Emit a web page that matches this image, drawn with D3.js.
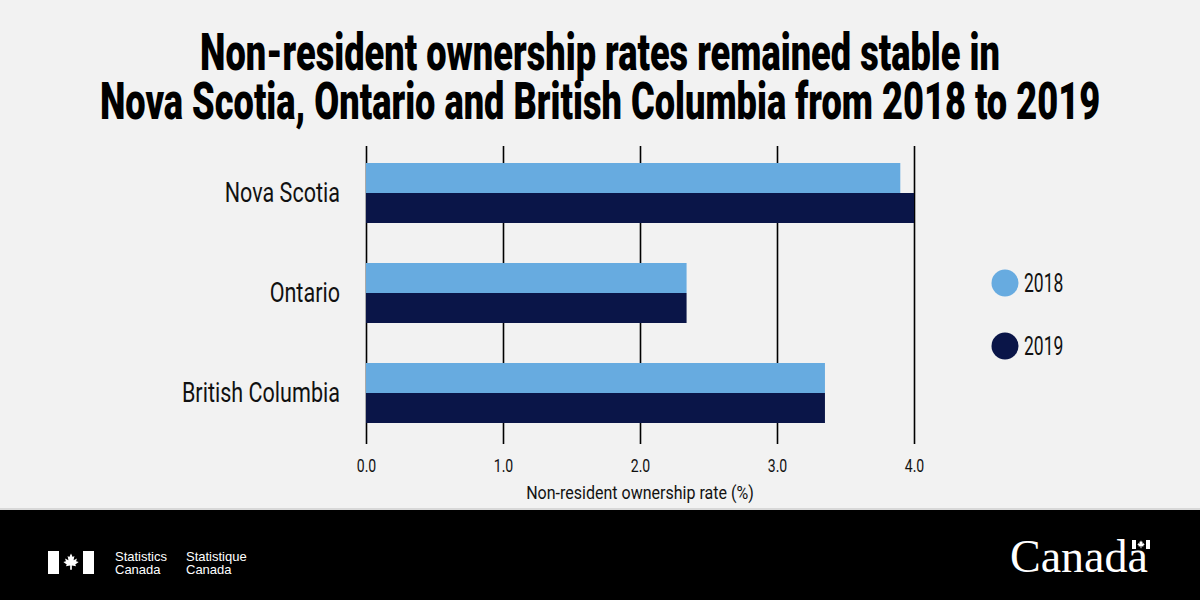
<!DOCTYPE html>
<html>
<head>
<meta charset="utf-8">
<script src="https://cdn.jsdelivr.net/npm/d3@7"></script>
<style>
  body { margin: 0; background: #f2f2f2; }
  svg { display: block; }
</style>
</head>
<body>
<div id="chart"></div>
<script>
var svgWidth = 1200;
var svgHeight = 600;

// data
var provinces = ["Nova Scotia", "Ontario", "British Columbia"];
var years = ["2018", "2019"];
var rate2018 = [3.9, 2.34, 3.35];
var rate2019 = [4.0, 2.34, 3.35];
var xTicks = [0, 1, 2, 3, 4];
var titleLines = ["Non-resident ownership rates remained stable in",
                  "Nova Scotia, Ontario and British Columbia from 2018 to 2019"];

var colors = { "2018": "#67abe0", "2019": "#0a1548" };
var fontCond = "Roboto, 'Liberation Sans', sans-serif";

var svg = d3.select("#chart")
  .append("svg")
  .attr("width", svgWidth)
  .attr("height", svgHeight);

svg.append("rect")
  .attr("width", svgWidth)
  .attr("height", svgHeight)
  .attr("fill", "#f2f2f2");

// squeeze text horizontally to fake a condensed face
function condense(sel, ratio) {
  sel.each(function() {
    var w = this.getComputedTextLength();
    d3.select(this)
      .attr("textLength", w * ratio)
      .attr("lengthAdjust", "spacingAndGlyphs");
  });
}

// Title: one text, two lines, squeezed by a scale
svg.append("g")
  .attr("transform", "translate(600, 70) scale(0.71, 1)")
  .append("text")
  .attr("text-anchor", "middle")
  .style("font-family", fontCond)
  .style("font-weight", "900")
  .style("font-size", "51px")
  .style("fill", "#000")
  .selectAll("tspan")
  .data(titleLines)
  .enter()
  .append("tspan")
  .attr("x", 0)
  .attr("y", (d, i) => i * 49)
  .text(d => d);

// Scales
var xScale = d3.scaleLinear()
  .domain([0, 4])
  .range([366, 914]);

var yScale = d3.scaleBand()
  .domain(provinces)
  .range([143, 443])
  .paddingInner(0.4)
  .paddingOuter(0.2);

var ySub = d3.scaleBand()
  .domain(years)
  .range([0, yScale.bandwidth()]);

// Axis + gridlines
var bottomAxis = d3.axisBottom(xScale)
  .tickValues(xTicks)
  .tickFormat(d3.format(".1f"))
  .tickSize(-(444 - 146))
  .tickPadding(15);

var axisG = svg.append("g")
  .attr("transform", "translate(0, 444)")
  .call(bottomAxis);

axisG.select(".domain").remove();
axisG.selectAll("line")
  .attr("stroke", "#000")
  .attr("stroke-width", 1.6);
axisG.selectAll("text")
  .style("font-family", fontCond)
  .style("font-size", "18px")
  .style("fill", "#111")
  .call(condense, 0.78);

// Bars
var rows = provinces.map((p, i) => ({ province: p, values: [
  { year: "2018", value: rate2018[i] },
  { year: "2019", value: rate2019[i] }
]}));

var groups = svg.selectAll(".prov")
  .data(rows)
  .enter()
  .append("g")
  .attr("class", "prov")
  .attr("transform", d => `translate(0, ${yScale(d.province)})`);

groups.selectAll("rect")
  .data(d => d.values)
  .enter()
  .append("rect")
  .attr("x", xScale(0))
  .attr("y", d => ySub(d.year))
  .attr("width", d => xScale(d.value) - xScale(0))
  .attr("height", ySub.bandwidth())
  .attr("fill", d => colors[d.year]);

// Category labels
svg.selectAll(".catLabel")
  .data(provinces)
  .enter()
  .append("text")
  .attr("class", "catLabel")
  .attr("x", 340)
  .attr("y", d => yScale(d) + yScale.bandwidth() / 2 + 9)
  .attr("text-anchor", "end")
  .style("font-family", fontCond)
  .style("font-size", "28px")
  .style("fill", "#111")
  .text(d => d)
  .call(condense, 0.77);

// x axis title
svg.append("text")
  .attr("x", (xScale(0) + xScale(4)) / 2)
  .attr("y", 499)
  .attr("text-anchor", "middle")
  .style("font-family", fontCond)
  .style("font-size", "18px")
  .style("fill", "#111")
  .text("Non-resident ownership rate (%)")
  .call(condense, 0.89);

// Legend
var legend = svg.selectAll(".legend")
  .data(years)
  .enter()
  .append("g")
  .attr("class", "legend")
  .attr("transform", (d, i) => `translate(1005, ${283 + i * 63})`);

legend.append("circle")
  .attr("r", 13.5)
  .attr("fill", d => colors[d]);

legend.append("text")
  .attr("x", 19)
  .attr("y", 9)
  .style("font-family", fontCond)
  .style("font-size", "25px")
  .style("fill", "#111")
  .text(d => d)
  .call(condense, 0.7);

// Footer
svg.append("rect")
  .attr("x", 0)
  .attr("y", 508)
  .attr("width", svgWidth)
  .attr("height", 2)
  .attr("fill", "#d8d8d8");

svg.append("rect")
  .attr("x", 0)
  .attr("y", 510)
  .attr("width", svgWidth)
  .attr("height", 90)
  .attr("fill", "#000");

var leaf = "M0,-10 L2,-6 L4,-7 L3,-2 L7,-4 L6,-1 L9,0 L5,3 L6,5 L1,4 L1,9 L-1,9 L-1,4 L-6,5 L-5,3 L-9,0 L-6,-1 L-7,-4 L-3,-2 L-4,-7 L-2,-6 Z";

var fip = svg.append("g").attr("fill", "#fff");
fip.append("rect").attr("x", 48).attr("y", 551).attr("width", 11).attr("height", 23);
fip.append("rect").attr("x", 83).attr("y", 551).attr("width", 11).attr("height", 23);
fip.append("path").attr("d", leaf).attr("transform", "translate(71,562) scale(0.85)");

var fipText = [["Statistics", "Canada"], ["Statistique", "Canada"]];
fipText.forEach(function(lines, i) {
  svg.selectAll(null)
    .data(lines)
    .enter()
    .append("text")
    .attr("x", 115 + i * 71)
    .attr("y", (d, j) => 561 + j * 13)
    .style("font-family", "'Liberation Sans', Arial, sans-serif")
    .style("font-size", "13px")
    .style("fill", "#fff")
    .text(d => d);
});

// Canada wordmark
svg.append("text")
  .attr("x", 1010)
  .attr("y", 572)
  .style("font-family", "'Liberation Serif', 'DejaVu Serif', serif")
  .style("font-size", "46px")
  .style("fill", "#fff")
  .text("Canada");

var mark = svg.append("g").attr("fill", "#fff");
mark.append("rect").attr("x", 1132).attr("y", 540).attr("width", 4).attr("height", 9);
mark.append("rect").attr("x", 1146).attr("y", 540).attr("width", 4).attr("height", 9);
mark.append("path").attr("d", leaf).attr("transform", "translate(1141,544.5) scale(0.42)");
</script>
</body>
</html>
